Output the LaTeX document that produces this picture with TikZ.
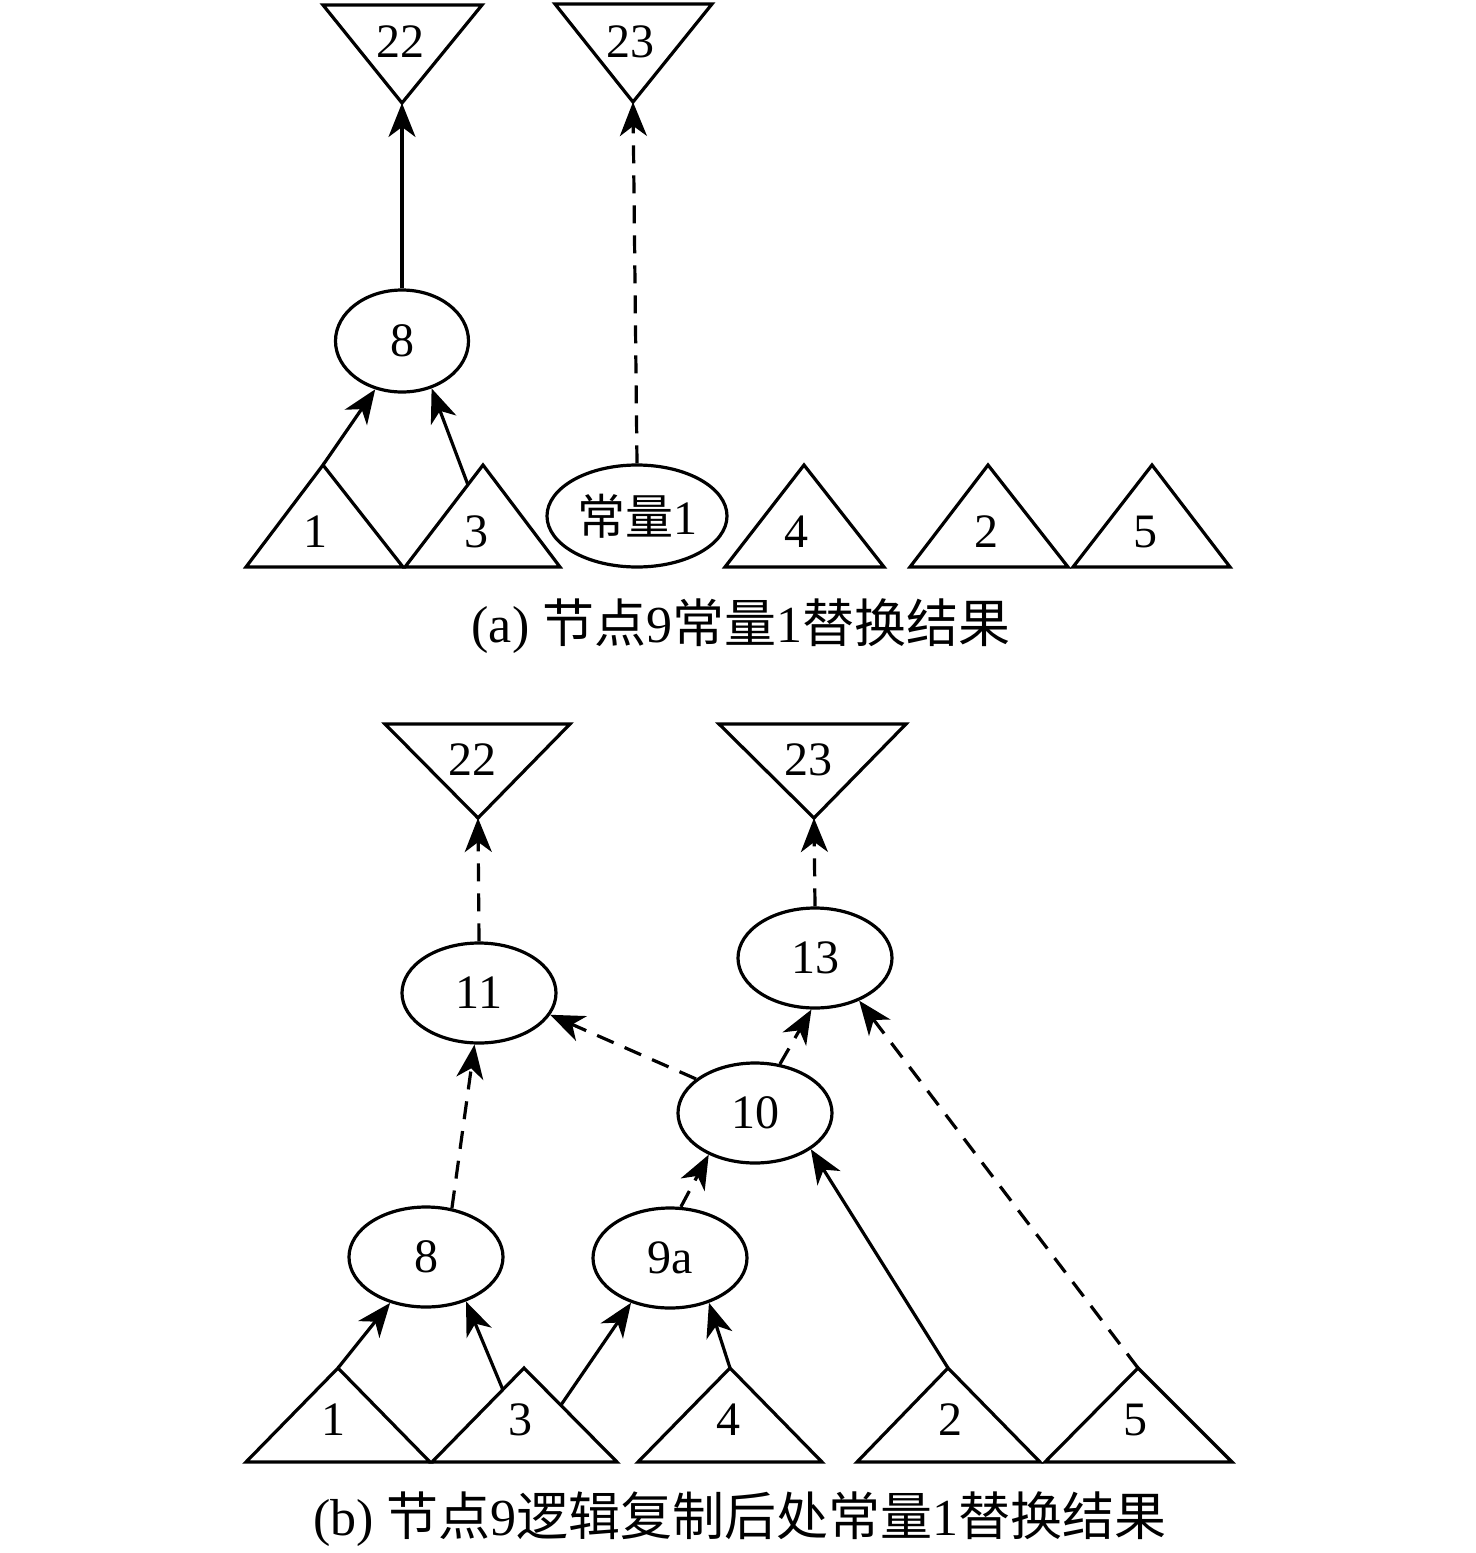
\documentclass[tikz,border=0pt]{standalone}
\usepackage{fontspec}
\setmainfont{Liberation Serif}
\newfontfamily\cjk{Noto Sans CJK SC}
\usetikzlibrary{arrows.meta,shapes.geometric}
\begin{document}
\begin{tikzpicture}[x=0.5pt,y=-0.5pt,line width=1.6pt,line join=miter,
  lbl/.style={font=\fontsize{24}{28}\selectfont,inner sep=0pt},
  captxt/.style={font=\fontsize{26}{30}\selectfont,inner sep=0pt},
  ell/.style={draw,ellipse,inner sep=0pt,font=\fontsize{24}{28}\selectfont,minimum width=77pt,minimum height=50pt},
  arr/.style={-{Stealth[length=17pt,width=13.5pt,inset=5pt]}},
  dsh/.style={dash pattern=on 9pt off 6pt}]
\useasboundingbox (0,0) rectangle (1476,1553);

% ---------- (a) ----------
\draw (323,5) -- (482,5) -- (402,103) -- cycle;
\coordinate (ap22a) at (402,103);
\node[lbl] (l22a) at (400,42) {22};
\draw (555,4) -- (712,4) -- (633,102) -- cycle;
\coordinate (ap23a) at (633,102);
\node[lbl] (l23a) at (630,42) {23};

\node[ell,minimum width=66.5pt,minimum height=51pt] (e8a) at (402,341) {8};
\node[ell,minimum width=90pt,minimum height=51pt] (ca) at (637,516) {{\cjk 常量}1};

\draw (246,567) -- (323,465) -- (403,567) -- cycle;
\coordinate (t1a) at (323,465);
\node[lbl] (l1a) at (315,532) {1};
\draw (405,567) -- (483,465) -- (560,567) -- cycle;
\coordinate (t3al) at (468,485);
\node[lbl] (l3a) at (476,532) {3};
\draw (725,567) -- (804,465) -- (884,567) -- cycle;
\node[lbl] (l4a) at (796,532) {4};
\draw (910,567) -- (988,465) -- (1068,567) -- cycle;
\node[lbl] (l2a) at (986,532) {2};
\draw (1073,567) -- (1152,465) -- (1230,567) -- cycle;
\node[lbl] (l5a) at (1145,532) {5};

\draw[arr] (e8a.north) -- (ap22a);
\draw[arr] (t1a) -- (e8a.-119);
\draw[arr] (t3al) -- (e8a.-58);
\draw[arr,dsh] (ca.north) -- (ap23a);

\node[captxt] (capa) at (741,626) {(a) {\cjk 节点}9{\cjk 常量}1{\cjk 替换结果}};

% ---------- (b) ----------
\draw (385,724) -- (570,724) -- (478,818) -- cycle;
\coordinate (ap22b) at (478,818);
\node[lbl] (l22b) at (472,760) {22};
\draw (719,724) -- (906,724) -- (814,818) -- cycle;
\coordinate (ap23b) at (814,818);
\node[lbl] (l23b) at (808,760) {23};

\node[ell] (e11) at (479,993) {11};
\node[ell] (e13) at (815,958) {13};
\node[ell] (e10) at (755,1113) {10};
\node[ell] (e8b) at (426,1257) {8};
\node[ell] (e9a) at (670,1258) {9a};

\draw (246,1462) -- (338,1368) -- (430,1462) -- cycle;
\coordinate (t1b) at (338,1368);
\node[lbl] (l1b) at (333,1420) {1};
\draw (432,1462) -- (524,1368) -- (617,1462) -- cycle;
\coordinate (t3bl) at (503,1390);
\coordinate (t3br) at (561,1405);
\node[lbl] (l3b) at (520,1420) {3};
\draw (638,1462) -- (730,1368) -- (822,1462) -- cycle;
\coordinate (t4b) at (730,1368);
\node[lbl] (l4b) at (728,1420) {4};
\draw (857,1462) -- (948,1368) -- (1040,1462) -- cycle;
\coordinate (t2b) at (948,1368);
\node[lbl] (l2b) at (950,1420) {2};
\draw (1045,1462) -- (1138,1368) -- (1232,1462) -- cycle;
\coordinate (t5b) at (1138,1368);
\node[lbl] (l5b) at (1135,1420) {5};

\draw[arr] (t1b) -- (e8b.-128);
\draw[arr] (t3bl) -- (e8b.-48);
\draw[arr] (t3br) -- (e9a.-131);
\draw[arr] (t4b) -- (e9a.-49);
\draw[arr,dsh] (e9a.78) -- (e10.-138);
\draw[arr] (t2b) -- (e10.-33);
\draw[arr,dsh] (e8b.62) -- (e11.-95);
\draw[arr,dsh] (e10.150) -- (e11.-17);
\draw[arr,dsh] (e10.63) -- (e13.-94);
\draw[arr,dsh] (t5b) -- (e13.-44);
\draw[arr,dsh] (e11.north) -- (ap22b);
\draw[arr,dsh] (e13.north) -- (ap23b);

\node[captxt] (capb) at (740,1519) {(b) {\cjk 节点}9{\cjk 逻辑复制后处常量}1{\cjk 替换结果}};
\end{tikzpicture}
\end{document}
